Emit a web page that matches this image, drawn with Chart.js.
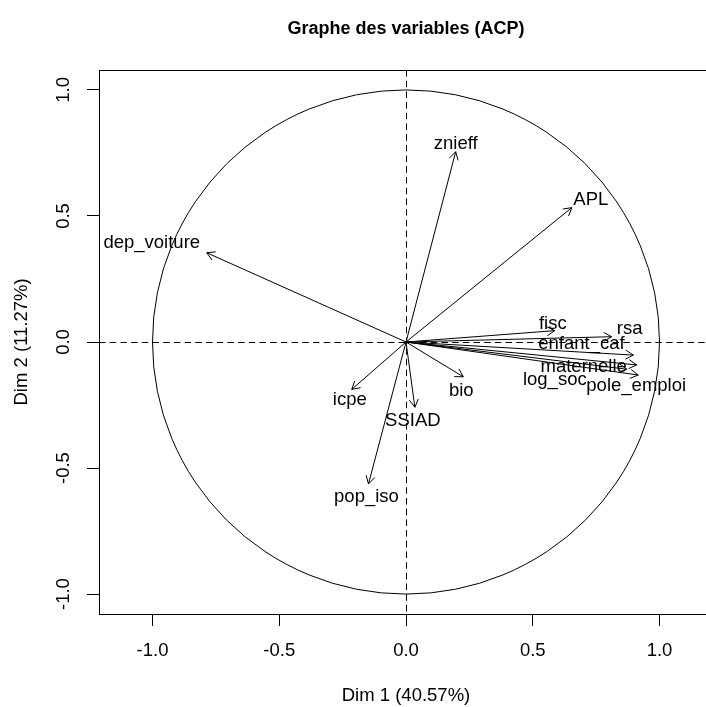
<!DOCTYPE html>
<html>
<head>
<meta charset="utf-8">
<script src="https://cdn.jsdelivr.net/npm/chart.js@4/dist/chart.umd.min.js"></script>
<style>
  html, body { margin: 0; padding: 0; background: #fff; overflow: hidden; }
  #wrap { width: 713px; height: 707px; }
</style>
</head>
<body>
<div id="wrap"><canvas id="acpChart" width="713" height="707"></canvas></div>
<script>
// variable coordinates on the first two dimensions
const variables = ['dep_voiture', 'znieff', 'APL', 'fisc', 'rsa', 'enfant_caf', 'maternelle',
                   'log_soc', 'pole_emploi', 'bio', 'icpe', 'SSIAD', 'pop_iso'];
const dim1 = [-0.786, 0.196, 0.654, 0.587, 0.811, 0.897, 0.910, 0.871, 0.916, 0.226, -0.214, 0.035, -0.148];
const dim2 = [0.354, 0.755, 0.533, 0.045, 0.021, -0.052, -0.091, -0.108, -0.131, -0.138, -0.188, -0.259, -0.563];
// label nudges (px) so labels don't overlap, like autoLab does
const labelDx = [-55, 0, 19, -2, 18, -52, -53, -72, -2, -2, -2, -2, -2];
const labelDy = [-10, -8, -8, -7, -8, -11, 2, 11, 11, 14, 11, 14, 13];
const xTicks = [-1.0, -0.5, 0.0, 0.5, 1.0];
const yTicks = [-1.0, -0.5, 0.0, 0.5, 1.0];

const FONT = 'Liberation Sans, Arial, sans-serif';

const datasets = variables.map(function(name, i) {
    return {
        label: name,
        data: [{x: 0, y: 0}, {x: dim1[i], y: dim2[i]}],
        showLine: true,
        borderColor: '#000',
        borderWidth: 1,
        pointRadius: 0
    };
});

const acpPlugin = {
    id: 'acp',
    beforeDatasetsDraw(chart) {
        const {ctx, chartArea, scales: {x, y}} = chart;
        const cx = x.getPixelForValue(0), cy = y.getPixelForValue(0);
        ctx.save();
        // unit circle
        ctx.strokeStyle = '#000';
        ctx.lineWidth = 1;
        ctx.beginPath();
        ctx.ellipse(cx, cy, x.getPixelForValue(1) - cx, cy - y.getPixelForValue(1), 0, 0, Math.PI * 2);
        ctx.stroke();
        // dashed axes through origin, snapped to the pixel grid
        const sx = Math.round(cx) + 0.5, sy = Math.round(cy) + 0.5;
        ctx.setLineDash([6.5, 4.2]);
        ctx.beginPath();
        ctx.moveTo(chartArea.left, sy);
        ctx.lineTo(chartArea.right, sy);
        ctx.moveTo(sx, chartArea.top);
        ctx.lineTo(sx, chartArea.bottom);
        ctx.stroke();
        ctx.restore();
    },
    afterDatasetsDraw(chart) {
        const {ctx, chartArea, scales: {x, y}} = chart;
        const cx = x.getPixelForValue(0), cy = y.getPixelForValue(0);
        ctx.save();
        ctx.strokeStyle = '#000';
        ctx.lineWidth = 1;
        variables.forEach(function(name, i) {
            const px = x.getPixelForValue(dim1[i]), py = y.getPixelForValue(dim2[i]);
            const ang = Math.atan2(py - cy, px - cx);
            const len = 9, spread = Math.PI / 6;
            ctx.beginPath();
            ctx.moveTo(px - len * Math.cos(ang - spread), py - len * Math.sin(ang - spread));
            ctx.lineTo(px, py);
            ctx.lineTo(px - len * Math.cos(ang + spread), py - len * Math.sin(ang + spread));
            ctx.stroke();
            ctx.fillStyle = '#000';
            ctx.font = '18.5px ' + FONT;
            ctx.textAlign = 'center';
            ctx.textBaseline = 'middle';
            ctx.fillText(name, px + labelDx[i], py + labelDy[i]);
        });
        // box around the plot
        const l = Math.round(chartArea.left) + 0.5, t = Math.round(chartArea.top) + 0.5;
        const b = Math.round(chartArea.bottom) + 0.5, r = Math.round(chartArea.right) - 0.5;
        ctx.strokeRect(l, t, r - l, b - t);
        // title
        ctx.font = 'bold 18px ' + FONT;
        ctx.textAlign = 'center';
        ctx.textBaseline = 'middle';
        ctx.fillText('Graphe des variables (ACP)', (chartArea.left + chartArea.right) / 2, 29);
        ctx.restore();
    }
};

const chart = new Chart(document.getElementById('acpChart').getContext('2d'), {
    type: 'scatter',
    data: { datasets: datasets },
    options: {
        responsive: false,
        animation: false,
        layout: { padding: { top: 70, left: 0, right: 0, bottom: 0 } },
        plugins: {
            legend: { display: false },
            tooltip: { enabled: false }
        },
        scales: {
            x: {
                type: 'linear',
                min: -1.211,
                max: 1.211,
                afterBuildTicks: function(scale) { scale.ticks = xTicks.map(v => ({value: v})); },
                afterFit: function(scale) { scale.height = 93; },
                grid: { drawOnChartArea: false, drawTicks: true, tickLength: 12, color: '#000' },
                border: { display: true, color: '#000' },
                ticks: {
                    color: '#000',
                    font: { family: FONT, size: 18.5 },
                    padding: 14,
                    maxRotation: 0,
                    callback: v => v.toFixed(1)
                },
                title: {
                    display: true,
                    text: 'Dim 1 (40.57%)',
                    color: '#000',
                    font: { family: FONT, size: 18.5 },
                    padding: { top: 0, bottom: 0 }
                }
            },
            y: {
                type: 'linear',
                min: -1.079,
                max: 1.079,
                afterBuildTicks: function(scale) { scale.ticks = yTicks.map(v => ({value: v})); },
                afterFit: function(scale) { scale.width = 99; },
                grid: { drawOnChartArea: false, drawTicks: true, tickLength: 12, color: '#000' },
                border: { display: true, color: '#000' },
                ticks: {
                    color: '#000',
                    font: { family: FONT, size: 18.5 },
                    padding: 7,
                    minRotation: 90,
                    maxRotation: 90,
                    crossAlign: 'center',
                    callback: v => v.toFixed(1)
                },
                title: {
                    display: true,
                    text: 'Dim 2 (11.27%)',
                    color: '#000',
                    font: { family: FONT, size: 18.5 },
                    padding: { top: 11, bottom: 0 }
                }
            }
        }
    },
    plugins: [acpPlugin]
});
</script>
</body>
</html>
